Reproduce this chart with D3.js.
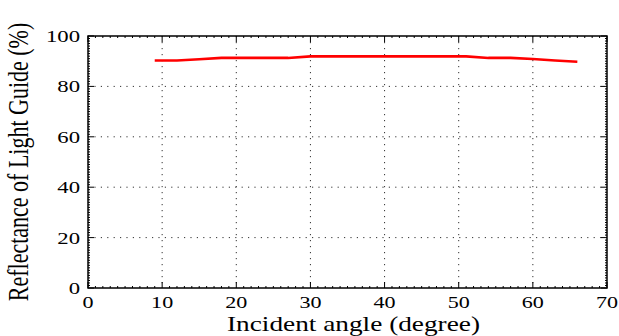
<!DOCTYPE html>
<html>
<head>
<meta charset="utf-8">
<script src="https://cdn.jsdelivr.net/npm/d3@7"></script>
<style>
  body { margin: 0; background: #fff; }
  text { font-family: "Liberation Serif", "Times New Roman", serif; fill: #000; }
</style>
</head>
<body>
<div id="chart"></div>
<script>
// data
const angles = [9, 12, 15, 18, 21, 24, 27, 30, 33, 36, 39, 42, 45, 48, 51, 54, 57, 60, 63, 66];
const reflectance = [90.3, 90.3, 90.8, 91.3, 91.3, 91.3, 91.3, 91.9, 91.9, 91.9, 91.9, 91.9, 91.9, 91.9, 91.9, 91.3, 91.3, 90.9, 90.3, 89.8];
const xTicks = [0, 10, 20, 30, 40, 50, 60, 70];
const yTicks = [0, 20, 40, 60, 80, 100];

const width = 619, height = 336;
const margin = { top: 36, right: 12, bottom: 48, left: 88 };
const w = width - margin.left - margin.right;
const h = height - margin.top - margin.bottom;

const svg = d3.select("#chart").append("svg")
  .attr("width", width).attr("height", height);
const g = svg.append("g").attr("transform", `translate(${margin.left},${margin.top})`);

const x = d3.scaleLinear().domain([0, 70]).range([0, w]);
const y = d3.scaleLinear().domain([0, 100]).range([h, 0]);

// dotted grid
g.selectAll(".vgrid").data(xTicks.slice(1, -1)).enter().append("line")
  .attr("x1", d => x(d)).attr("x2", d => x(d)).attr("y1", 0).attr("y2", h)
  .attr("stroke", "#333").attr("stroke-width", 1).attr("stroke-dasharray", "1.2,4.8");
g.selectAll(".hgrid").data(yTicks.slice(1, -1)).enter().append("line")
  .attr("x1", 0).attr("x2", w).attr("y1", d => y(d)).attr("y2", d => y(d))
  .attr("stroke", "#333").attr("stroke-width", 1).attr("stroke-dasharray", "1.2,5.2");

// minor ticks, every unit, on all four sides
const minorX = d3.range(0, 71);
const minorY = d3.range(0, 101);
const tk = g.append("g").attr("stroke", "#000").attr("stroke-width", 1);
minorX.forEach(d => {
  const len = d % 10 === 0 ? 6 : 2;
  tk.append("line").attr("x1", x(d)).attr("x2", x(d)).attr("y1", h).attr("y2", h - len);
  tk.append("line").attr("x1", x(d)).attr("x2", x(d)).attr("y1", 0).attr("y2", len);
});
minorY.forEach(d => {
  const len = d % 20 === 0 ? 6 : 2;
  tk.append("line").attr("y1", y(d)).attr("y2", y(d)).attr("x1", 0).attr("x2", len);
  tk.append("line").attr("y1", y(d)).attr("y2", y(d)).attr("x1", w).attr("x2", w - len);
});

// box
g.append("rect").attr("width", w).attr("height", h)
  .attr("fill", "none").attr("stroke", "#000").attr("stroke-width", 1.5);

// tick labels (the picture is stretched sideways)
const sx = 1.3;
g.selectAll(".xlab").data(xTicks).enter().append("text")
  .attr("transform", d => `translate(${x(d)},${h + 20}) scale(${sx},1)`)
  .attr("text-anchor", "middle").attr("font-size", 17).text(d => d);
g.selectAll(".ylab").data(yTicks).enter().append("text")
  .attr("transform", d => `translate(-8,${y(d) + 6}) scale(${sx},1)`)
  .attr("text-anchor", "end").attr("font-size", 17.5).text(d => d);

// axis titles
svg.append("text")
  .attr("transform", `translate(${margin.left + w / 2 + 6},${height - 5}) scale(${sx},1)`)
  .attr("text-anchor", "middle").attr("font-size", 21).text("Incident angle (degree)");
svg.append("text")
  .attr("transform", `translate(28,${margin.top + h / 2}) scale(${sx},1) rotate(-90)`)
  .attr("text-anchor", "middle").attr("font-size", 22).text("Reflectance of Light Guide (%)");

// red curve
const pts = angles.map((a, i) => [a, reflectance[i]]);
g.append("path").datum(pts)
  .attr("fill", "none").attr("stroke", "#ff0000").attr("stroke-width", 2.6)
  .attr("d", d3.line().x(d => x(d[0])).y(d => y(d[1])));
</script>
</body>
</html>
